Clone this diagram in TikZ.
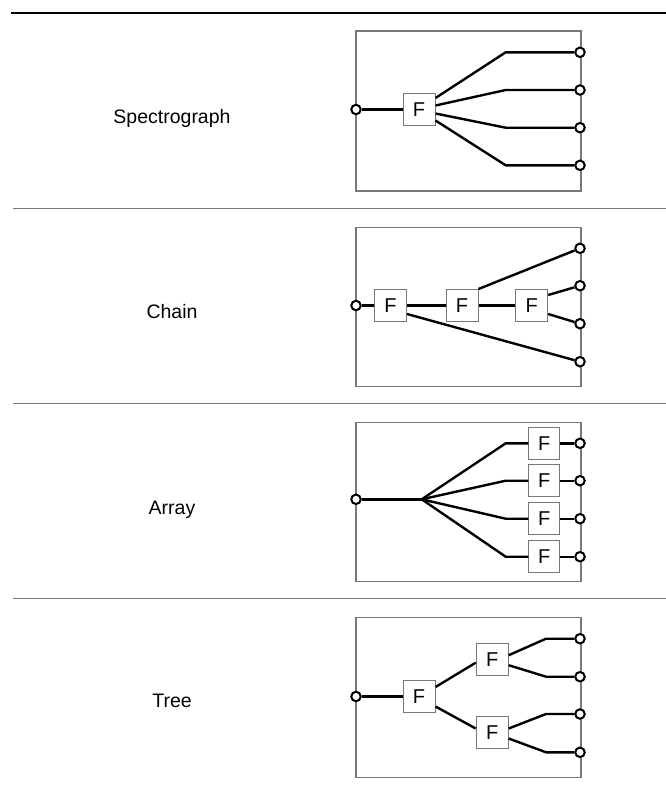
\documentclass[tikz,border=0pt]{standalone}
\usepackage{fontspec}
\setmainfont{Liberation Sans}
\usetikzlibrary{calc}
\definecolor{framegray}{RGB}{120,120,120}
\begin{document}
\begin{tikzpicture}[x=1pt,y=-1pt,
  frame/.style={draw=framegray,line width=1.3pt},
  rulegray/.style={draw=framegray,line width=1.4pt},
  ruleblack/.style={draw=black,line width=1.4pt},
  wire/.style={draw=black,line width=2.4pt},
  fbox/.style={draw=framegray,fill=white,line width=1pt,minimum width=32pt,minimum height=32pt,inner sep=0pt,font=\fontsize{20}{24}\selectfont},
  port/.style={circle,draw=black,fill=white,line width=2pt,minimum size=9.5pt,inner sep=0pt},
  lab/.style={anchor=base,font=\fontsize{19.5}{24}\selectfont,inner sep=0pt}]
\useasboundingbox (0,0) rectangle (666,787);

% rules
\coordinate (r0a) at (11,13);  \coordinate (r0b) at (666,13);
\coordinate (r1a) at (13,208.5); \coordinate (r1b) at (666,208.5);
\coordinate (r2a) at (13,403.5); \coordinate (r2b) at (666,403.5);
\coordinate (r3a) at (13,598.5); \coordinate (r3b) at (666,598.5);
\draw[ruleblack] (r0a) -- (r0b);
\draw[rulegray] (r1a) -- (r1b);
\draw[rulegray] (r2a) -- (r2b);
\draw[rulegray] (r3a) -- (r3b);

% labels
\node[lab] (l1) at (172,123.3) {Spectrograph};
\node[lab] (l2) at (172,318.3) {Chain};
\node[lab] (l3) at (172,514.5) {Array};
\node[lab] (l4) at (172,707.5) {Tree};

% ---------- Panel 1: Spectrograph
\draw[frame] (356,31) rectangle (581,191);
\node[port] (a-in) at (356,109.5) {};
\node[fbox] (a-F) at (419,109.5) {F};
\foreach \i/\y in {1/52.3,2/90,3/127.7,4/165.3}{
  \coordinate (a-k\i) at (505.7,\y);
  \node[port] (a-o\i) at (580,\y) {};
}
\draw[wire] (a-in) -- (a-F);
\draw[wire] ([yshift=11.5pt]a-F.east) -- (a-k1) -- (a-o1);
\draw[wire] ([yshift=4pt]a-F.east) -- (a-k2) -- (a-o2);
\draw[wire] ([yshift=-4pt]a-F.east) -- (a-k3) -- (a-o3);
\draw[wire] ([yshift=-11pt]a-F.east) -- (a-k4) -- (a-o4);

% ---------- Panel 2: Chain
\draw[frame] (356,227.3) rectangle (581,386.7);
\node[port] (b-in) at (356,305.5) {};
\node[fbox] (b-F1) at (390.5,305.5) {F};
\node[fbox] (b-F2) at (462,305.5) {F};
\node[fbox] (b-F3) at (531.7,305.5) {F};
\node[port] (b-o1) at (580,248.3) {};
\node[port] (b-o2) at (580,285.7) {};
\node[port] (b-o3) at (580,323.7) {};
\node[port] (b-o4) at (580,361.7) {};
\draw[wire] (b-in) -- (b-F1);
\draw[wire] (b-F1) -- (b-F2);
\draw[wire] (b-F2) -- (b-F3);
\draw[wire] (b-F2.north east) -- (b-o1);
\draw[wire] ([yshift=10.5pt]b-F3.east) -- (b-o2);
\draw[wire] ([yshift=-8.5pt]b-F3.east) -- (b-o3);
\draw[wire] ([yshift=-8.5pt]b-F1.east) -- (b-o4);

% ---------- Panel 3: Array
\draw[frame] (356,422.3) rectangle (581,581.7);
\node[port] (c-in) at (356,499.3) {};
\coordinate (c-j) at (421.7,499.3);
\draw[wire] (c-in) -- (c-j);
\foreach \i/\y in {1/443.3,2/480.7,3/518.7,4/556.7}{
  \coordinate (c-k\i) at (505.7,\y);
  \node[fbox,minimum width=31pt] (c-F\i) at (544.3,\y) {F};
  \node[port] (c-o\i) at (580,\y) {};
  \draw[wire] (c-j) -- (c-k\i) -- (c-F\i);
  \draw[wire] (c-F\i) -- (c-o\i);
}

% ---------- Panel 4: Tree
\draw[frame] (356,617.7) rectangle (581,777.3);
\node[port] (d-in) at (356,696.5) {};
\node[fbox] (d-F) at (419,696.5) {F};
\node[fbox] (d-Fu) at (492.2,659.2) {F};
\node[fbox] (d-Fl) at (492.2,732.5) {F};
\draw[wire] (d-in) -- (d-F);
\draw[wire] ([yshift=9.5pt]d-F.east) -- ([yshift=-3.5pt]d-Fu.west);
\draw[wire] ([yshift=-10pt]d-F.east) -- ([yshift=4pt]d-Fl.west);
\foreach \i/\y in {1/638.7,2/676.7,3/714,4/752.3}{
  \coordinate (d-k\i) at (546,\y);
  \node[port] (d-o\i) at (580,\y) {};
}
\draw[wire] ([yshift=4pt]d-Fu.east) -- (d-k1) -- (d-o1);
\draw[wire] ([yshift=-6pt]d-Fu.east) -- (d-k2) -- (d-o2);
\draw[wire] ([yshift=4pt]d-Fl.east) -- (d-k3) -- (d-o3);
\draw[wire] ([yshift=-6pt]d-Fl.east) -- (d-k4) -- (d-o4);
\end{tikzpicture}
\end{document}
